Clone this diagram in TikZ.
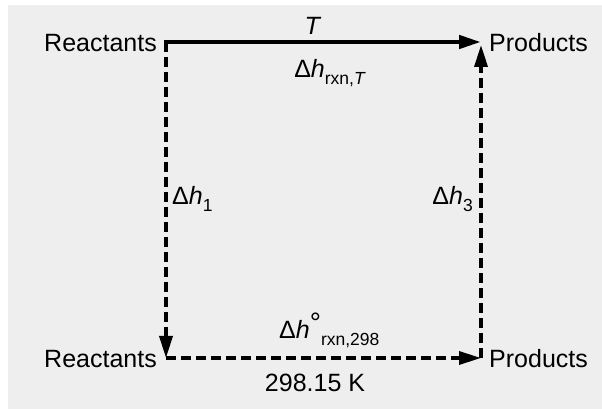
\documentclass[tikz,border=0pt]{standalone}
\usepackage{fontspec}
\setmainfont{Liberation Sans}
\usetikzlibrary{arrows.meta}
\definecolor{panel}{RGB}{237,238,237}
\newcommand{\sbs}[1]{\raisebox{-7pt}{\fontsize{17.5}{17.5}\selectfont #1}}
\tikzset{
  lbl/.style={inner sep=0pt, font=\fontsize{25}{25}\selectfont},
  tip/.style={-{Triangle[length=22pt,width=13pt]}},
  solidline/.style={line width=4.5pt, tip},
  dashline/.style={line width=3.5pt, dash pattern=on 10pt off 5pt, tip}
}
\begin{document}
\begin{tikzpicture}[x=1pt,y=1pt]
\useasboundingbox (0,0) rectangle (602,409);
\fill[panel] (8,0) rectangle (602,404);
% corners
\coordinate (tl) at (166,367);
\coordinate (tr) at (481,367);
\coordinate (bl) at (166,51);
\coordinate (br) at (481,51);
\coordinate (trt) at (481,364);
% state labels
\node[lbl, anchor=east] (r1) at (157,366) {Reactants};
\node[lbl, anchor=west] (p1) at (489,366) {Products};
\node[lbl, anchor=east] (r2) at (157,50) {Reactants};
\node[lbl, anchor=west] (p2) at (489,50) {Products};
% connectors
\draw[dashline] (tl) -- (bl);
\draw[dashline] (bl) -- (br);
\draw[dashline] (br) -- (trt);
\draw[solidline] ([xshift=-2pt]tl) -- (tr);
% labels
\node[lbl] (t) at (313,383) {\textit{T}};
\node[lbl] (hT) at (330,336) {Δ\textit{h}\sbs{rxn,\textit{T}}};
\node[lbl, anchor=west] (h1) at (172,210) {Δ\textit{h}\sbs{1}};
\node[lbl, anchor=east] (h3) at (473,210) {Δ\textit{h}\sbs{3}};
\node[lbl, anchor=west] (h0) at (279,79) {Δ\textit{h}\raisebox{6pt}{\fontsize{28}{28}\selectfont °}\sbs{rxn,298}};
\node[lbl] (k) at (315,26) {298.15 K};
\end{tikzpicture}
\end{document}
